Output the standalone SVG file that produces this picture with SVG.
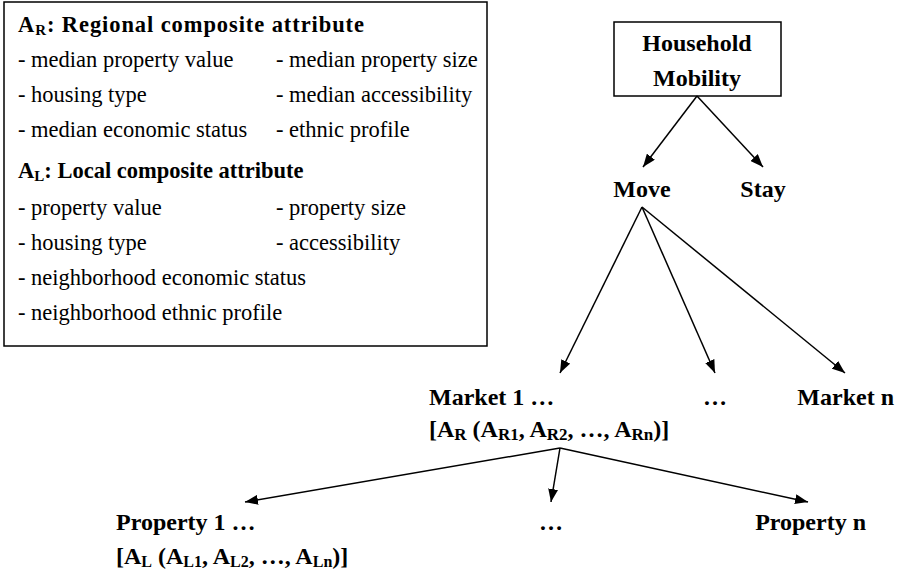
<svg xmlns="http://www.w3.org/2000/svg" width="898" height="574" viewBox="0 0 898 574">
<style>
text{font-family:"Liberation Serif","Times New Roman",serif;fill:#000}
.b{font-weight:bold;font-size:24px}
.h{font-weight:bold;font-size:22.5px}
.n{font-size:22.5px}
.c{stroke:#000;stroke-width:1.5;fill:none}
.box{fill:#fff;stroke:#000;stroke-width:1.5}
</style>
<defs>
<marker id="ah" viewBox="0 0 13 10" refX="13" refY="5" markerWidth="13" markerHeight="10" markerUnits="userSpaceOnUse" orient="auto">
<path d="M0,0 L13,5 L0,10 z" fill="#000"/>
</marker>
</defs>
<g id="legend">
<rect class="box" x="4" y="2" width="483" height="344"/>
<text class="h" x="18" y="32" textLength="346" lengthAdjust="spacing">A<tspan font-size="15" dy="3">R</tspan><tspan dy="-3">: Regional composite attribute</tspan></text>
<text class="n" x="18" y="67">- median property value</text>
<text class="n" x="276" y="67">- median property size</text>
<text class="n" x="18" y="102">- housing type</text>
<text class="n" x="276" y="102">- median accessibility</text>
<text class="n" x="18" y="137">- median economic status</text>
<text class="n" x="276" y="137">- ethnic profile</text>
<text class="h" x="18" y="178">A<tspan font-size="15" dy="3">L</tspan><tspan dy="-3">: Local composite attribute</tspan></text>
<text class="n" x="18" y="215">- property value</text>
<text class="n" x="276" y="215">- property size</text>
<text class="n" x="18" y="250">- housing type</text>
<text class="n" x="276" y="250">- accessibility</text>
<text class="n" x="18" y="285">- neighborhood economic status</text>
<text class="n" x="18" y="320">- neighborhood ethnic profile</text>
</g>
<g id="household">
<rect class="box" x="614" y="22" width="167" height="74"/>
<text class="b" x="697" y="51" text-anchor="middle">Household</text>
<text class="b" x="697" y="86" text-anchor="middle">Mobility</text>
</g>
<g id="move"><text class="b" x="642" y="197" text-anchor="middle">Move</text></g>
<g id="stay"><text class="b" x="763" y="197" text-anchor="middle">Stay</text></g>
<g id="market1">
<text class="b" x="429" y="405" font-size="25">Market 1 …</text>
<text class="b" x="429" y="437">[A<tspan font-size="17" dy="3">R</tspan><tspan dy="-3"> (A</tspan><tspan font-size="17" dy="3">R1</tspan><tspan dy="-3">, A</tspan><tspan font-size="17" dy="3">R2</tspan><tspan dy="-3">, …, A</tspan><tspan font-size="17" dy="3">Rn</tspan><tspan dy="-3">)]</tspan></text>
</g>
<g id="market-mid"><text class="b" x="715" y="405" text-anchor="middle">…</text></g>
<g id="marketn"><text class="b" x="894" y="405" text-anchor="end">Market n</text></g>
<g id="property1">
<text class="b" x="116" y="530">Property 1 …</text>
<text class="b" x="116" y="564">[A<tspan font-size="16" dy="3">L</tspan><tspan dy="-3"> (A</tspan><tspan font-size="16" dy="3">L1</tspan><tspan dy="-3">, A</tspan><tspan font-size="16" dy="3">L2</tspan><tspan dy="-3">, …, A</tspan><tspan font-size="16" dy="3">Ln</tspan><tspan dy="-3">)]</tspan></text>
</g>
<g id="property-mid"><text class="b" x="551" y="530" text-anchor="middle">…</text></g>
<g id="propertyn"><text class="b" x="866" y="530" text-anchor="end">Property n</text></g>
<g id="connectors">
<line class="c" x1="697" y1="96" x2="643" y2="167" marker-end="url(#ah)"/>
<line class="c" x1="697" y1="96" x2="763" y2="167" marker-end="url(#ah)"/>
<line class="c" x1="642" y1="207" x2="560" y2="373" marker-end="url(#ah)"/>
<line class="c" x1="642" y1="207" x2="715" y2="373" marker-end="url(#ah)"/>
<line class="c" x1="642" y1="207" x2="845" y2="373" marker-end="url(#ah)"/>
<line class="c" x1="560" y1="448" x2="245" y2="502" marker-end="url(#ah)"/>
<line class="c" x1="560" y1="448" x2="551" y2="502" marker-end="url(#ah)"/>
<line class="c" x1="560" y1="448" x2="808" y2="502" marker-end="url(#ah)"/>
</g>
</svg>
